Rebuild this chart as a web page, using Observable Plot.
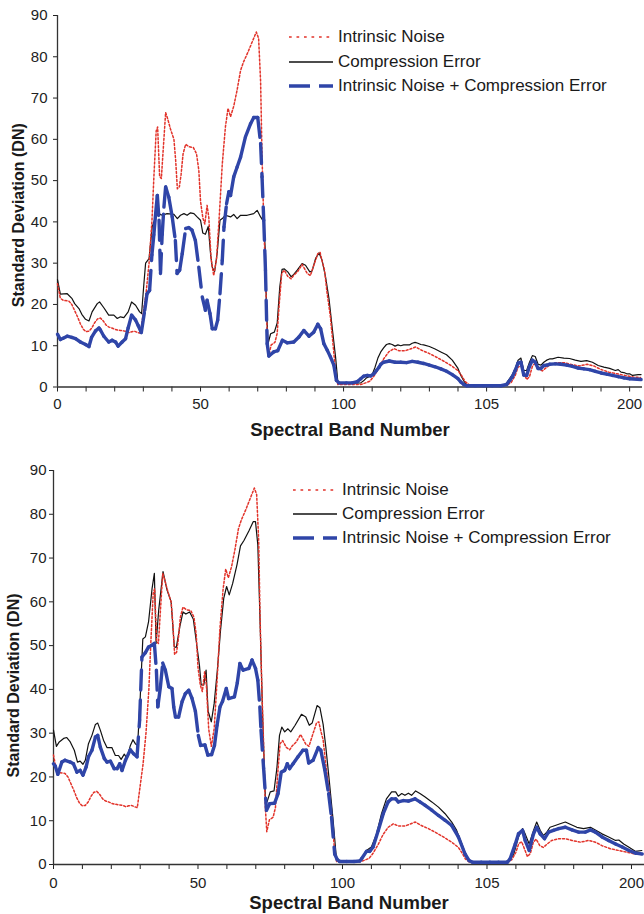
<!DOCTYPE html>
<html>
<head>
<meta charset="utf-8">
<script src="https://cdn.jsdelivr.net/npm/d3@7"></script>
<script src="https://cdn.jsdelivr.net/npm/@observablehq/plot@0.6"></script>
<style>
  body { margin: 0; background: #fff; font-family: "Liberation Sans", Arial, Helvetica, sans-serif; }
  #page { position: relative; width: 644px; height: 914px; overflow: hidden; background: #fff; }
  .panel { position: absolute; left: 0; width: 644px; height: 457px; }
  .panel svg { overflow: visible; }
  .legend-row { position: absolute; height: 20px; display: flex; align-items: center; white-space: nowrap;
                font-size: 17px; color: #1a1a1a; }
  .legend-row svg { flex: none; margin-right: 5px; }
</style>
</head>
<body>
<div id="page"></div>
<script>
// ---- Axis ticks and labels ----
const bandTicks = d3.range(0, 201, 10);
const bandLabelValues = [0, 50, 100, 150, 200];
const bandLabelText = ["0", "50", "100", "105", "200"];
const sdTicks = d3.range(0, 91, 10);
const seriesNames = ["Intrinsic Noise", "Compression Error", "Intrinsic Noise + Compression Error"];

// ---- Intrinsic noise (same in both panels): [band, standard deviation] ----
const intrinsicNoise = [
  [0,25],[1,21.5],[2,21],[4,20.8],[5,20],[6,18.5],[7,17],[8,15.3],[9,14],[10,13.4],[11,13.5],[12,14.3],
  [13,15.6],[14,16.5],[15,16.7],[16,16],[17,15],[18,14.5],[19,14.3],[20,14],[21,13.8],[22,13.7],[24,13.5],
  [25,13.2],[26,13.4],[27,13.5],[28,13.2],[29,13],[30,18],[31,23],[32,30],[33,40],[33.7,51],[34.5,62],
  [35,63],[35.7,51],[36.3,50.5],[37,58],[37.8,66.5],[38.5,65],[39.5,62.5],[40.7,60],[41.3,55],[41.9,48],
  [42.6,48.5],[43.2,51.5],[43.9,56.5],[44.8,58.8],[46,58.2],[47.5,58],[48.6,56.5],[49.4,52.5],[50,45],
  [50.8,41],[51.5,39.5],[52.3,44],[52.9,41],[53.7,31],[54.6,27],[55.6,31],[56.6,42],[57.6,54],[58.7,63],
  [59.6,67.5],[60.5,65.5],[61.6,68],[62.8,72],[64,76.7],[65,78.7],[66.5,81],[68,83.5],[69.5,86],[70.3,84.5],
  [71,74],[71.5,56],[72.1,40],[72.7,27.5],[73.3,13],[73.8,7.5],[74.7,10.2],[76,10.8],[76.8,13],[77.5,20],
  [78.4,27.6],[79.3,28.3],[80.5,26.8],[81.7,26.2],[82.5,27],[84,28],[85.5,29.7],[87.3,27.5],[88.4,27],
  [89.6,29.5],[91,32.3],[91.8,32.6],[92.5,30.5],[93.3,28.5],[94.2,23],[95.4,17],[96.5,9],[97.3,3],[98,0.6],
  [106,0.6],[107.7,1],[109.2,1.4],[110.5,2.5],[112.3,4.5],[114,6.8],[115.8,8.5],[117.6,9.3],[119.3,8.8],
  [121.6,8.8],[123.3,9.2],[125.2,9.7],[127.3,8.9],[129.7,8.2],[132,7.4],[134.9,6.3],[137.8,5.1],[140.1,3.9],
  [141.5,2.5],[142.5,1.3],[143.8,0.6],[145,0.4],[157,0.4],[158.6,1.1],[160,2.8],[161,4.8],[162,5.2],
  [163,3.5],[164,1.8],[165,2.5],[166,5],[167,5.8],[168.3,4.3],[169.5,3.9],[170.7,4.6],[172.4,5.5],
  [174.8,5.9],[177.1,5.9],[179.4,5.5],[182.3,5.1],[185.2,5.5],[187.5,5.1],[189.8,4.3],[192.7,3.6],
  [195.6,3.2],[198.4,2.8],[201.3,2.4],[203.8,2.3]
];

// ---- Upper panel ----
const compressionUpper = [
  [0,26],[1,22.5],[3.4,22.6],[5.1,21.4],[6,20.2],[7.5,19],[8.5,17.6],[9.8,16.4],[11,16],[12.1,18.2],
  [13.9,20.2],[14.7,20.6],[16.2,19.2],[17.9,17.4],[19.7,17.4],[20.9,16.6],[22,17],[23.2,16.8],[24.7,18.2],
  [25.9,20.6],[27.3,19.8],[28.7,18.2],[29.4,17.8],[30.2,25],[30.8,30],[32,31.1],[33.1,38.8],[34.3,41.2],
  [35.4,42],[36.6,41.6],[38.3,42],[40.7,41.8],[41.9,40.8],[43,41.6],[44.2,42],[45.3,41.6],[46.5,42.2],
  [47.7,42],[48.8,41.2],[50,40.4],[50.8,37.3],[51.7,37],[52.7,38.9],[53.5,32.3],[54.1,29],[54.9,27.9],
  [55.8,32.3],[56.8,40.4],[57.6,40.8],[58.7,41.6],[60.5,41.2],[61.6,41.8],[62.8,40.8],[64,41.6],[66.3,41.6],
  [68.6,42],[69.8,42.8],[71,41.2],[72.1,40],[72.7,32.3],[73,20.2],[73.6,10.5],[74.5,12.9],[75.8,13.3],
  [76.8,15.5],[77.7,24.2],[78.5,28.5],[79.3,28.6],[80.5,27.9],[81.7,26.7],[82.6,27.3],[83.8,28.3],
  [85.5,29.9],[86.7,29.5],[88.2,27.9],[89,28.1],[90.2,31.1],[91.4,32.5],[92.5,30.7],[93.7,26.7],
  [94.9,21.4],[96,14.5],[97.2,7.3],[98,1.2],[99,0.8],[106,1],[107,1.5],[108,2.2],[109,2.5],[110,3],
  [111,4.8],[112,7],[113,8.5],[114,9.5],[115,10.3],[116,10.5],[117,10.3],[118,9.9],[119,10.2],[120,10],
  [121,10.2],[123,10.2],[124,10.6],[125,10.8],[126,10.6],[127,10.3],[128,10.2],[130,9.8],[132,9.2],
  [134,8.5],[136,7.8],[138,6.5],[140,4.5],[141,2.8],[142,1.5],[143,0.6],[144,0.3],[156,0.4],[157,1],
  [158,2],[159,3],[160,4.5],[161,6.5],[162,7],[163,4],[164,4],[165,6],[166,7.6],[167,7.4],[168,5.5],
  [169,5.3],[170,6],[171,6.5],[172,6.8],[173,6.8],[175,7.2],[177,7],[179,6.9],[181,6.5],[183,6.2],
  [185,6.4],[187,6],[189,5.2],[191,4.8],[193,4.5],[195,4],[196,4.2],[197,3.6],[198,3.5],[199,3.2],
  [200,3.2],[201,2.8],[203,3],[204,3]
];
const combinedUpper = [
  [0,12.8],[1,11.5],[2,11.8],[3.4,12.3],[5,12],[6.3,11.7],[8,10.9],[9.8,10.3],[11,9.8],[11.9,12],
  [13.3,13.6],[14.5,14.3],[15,13.8],[16.2,12.3],[17.9,10.9],[19.1,11.3],[20.3,10.9],[21.2,9.9],[22.6,10.9],
  [23.8,11.7],[24.7,14.3],[25.9,17.4],[27.3,16.2],[28.2,14.9],[29.3,13.2],[30.5,18.6],[31.3,22.6],
  [32.2,23.4],[33,32],[33.7,37],[34.3,42],[34.9,46.4],[35.5,40.4],[36,27.5],[36.6,37],[37.2,43.6],
  [37.8,48.5],[38.9,46],[40.1,41.2],[41.2,35.5],[41.8,27.5],[42.7,28.3],[43.6,32.3],[44.8,38.4],
  [45.9,38.6],[47,38],[48.2,35.5],[49.4,29],[50.6,21.8],[51.7,18.6],[52.3,21],[53.3,17.8],[54.1,14.1],
  [55.2,14.1],[56,16.2],[56.8,22.6],[57.6,30.7],[58.2,38.8],[59.1,44.4],[59.9,47.3],[60.5,46.4],
  [61.6,50.9],[62.8,53.3],[64,55.7],[65.7,60.6],[67.5,63.8],[68.6,65.3],[70,65.3],[71,59],[71.5,50.9],
  [72.1,40.4],[72.7,28.3],[73.3,10.5],[73.9,7.5],[75.6,8.5],[77,8.8],[78.6,11.3],[80.3,10.7],[82.6,10.9],
  [84.4,12.1],[86.1,13.7],[87.9,12.3],[89.6,13.3],[91,15.2],[92,14.1],[93.1,10.5],[94.3,8.9],[95.4,7.3],
  [96.6,5.3],[97.5,1.6],[98.4,1],[101,1],[103,1],[104.8,1.3],[106,2],[107,2.6],[108.3,2.8],[109.5,2.7],
  [110.6,3.2],[111.5,4],[112.4,4.8],[113,5.5],[114,6],[116,6.3],[118,6],[120,6],[122,5.9],[124,6.2],
  [126,6],[128,5.7],[130,5.3],[132,4.9],[134,4.4],[136,3.8],[138,3],[140,2],[141,1.2],[142,0.6],[143,0.3],
  [146,0.3],[149,0.3],[152,0.3],[155,0.3],[157,0.6],[158,1.5],[159,2.5],[160,4],[161,5.8],[162,6],
  [163,2.9],[164,2.8],[165,5],[166,6.5],[167,6],[168,4.5],[169,4.5],[170,5.2],[171,5.3],[172,5.5],
  [174,5.6],[176,5.5],[178,5.3],[180,5],[182,4.6],[184,4.4],[186,4.2],[188,3.8],[190,3.4],[192,3.1],
  [194,2.8],[196,2.5],[198,2.2],[200,2],[204,1.8]
];

// ---- Lower panel ----
const compressionLower = [
  [0,30.7],[1,27],[2,28],[3.5,28.8],[4.6,29],[5.8,28],[7.2,26.1],[8.3,23.4],[9.2,23.6],[10.2,22.9],
  [11,23.8],[12.1,27.6],[13.3,29.5],[14.5,32],[15.3,32.3],[16.2,30.7],[17.3,28.4],[18.5,26.7],[20.2,26.7],
  [21.4,24.9],[22.5,24.9],[23.4,24],[24.5,25.2],[25.4,24.2],[26.6,27.2],[27.5,28.5],[28.3,27.6],[29.1,27.2],
  [30,38],[30.9,51.5],[31.8,52],[32.9,55.5],[34.1,63],[34.9,66.5],[35.5,50.5],[36.4,58.1],[37.9,66.9],
  [39.3,62.7],[40.7,60],[41.8,49.7],[42.5,49.6],[43.7,54.3],[44.8,57.7],[45.8,57.2],[47.1,57.7],[48.4,56],
  [49.3,51.5],[50.5,45.5],[51.1,41],[52,41],[52.8,44.4],[53.5,35],[54.6,32.6],[55.6,36.8],[56.7,44.4],
  [57.8,53.5],[58.9,60.8],[59.9,63.5],[60.8,61.6],[62,64.2],[63.5,68.5],[64.7,72.8],[65.9,74],[67.6,76.2],
  [69.1,78.3],[69.9,78.3],[70.7,73],[71.5,55],[72.4,33],[73.3,15.5],[73.9,14.3],[75,16.6],[76.3,16.8],
  [77.3,22],[78.2,29.5],[79,31.4],[80,30.3],[81.1,31],[82.1,30.3],[83.6,31.8],[85.8,34.3],[87.3,33.7],
  [88.5,31.8],[89.5,32.3],[91.2,36.3],[92.2,35.8],[93.3,32],[94.2,27],[95.3,20],[96.7,10.5],[97.9,1.3],
  [99,0.8],[106,0.8],[106.8,1.3],[108.3,3.2],[110,4],[111.8,7],[113.5,11.6],[115.2,15],[117,16.6],
  [118.4,16.6],[119.3,15.6],[120.5,16.2],[121.6,15.8],[122.8,16.3],[123.9,15.8],[125.3,16.8],[126.8,16.2],
  [128.6,15.4],[130.9,14.3],[133.2,13.1],[135.5,11.6],[137.8,9.7],[139.5,7.8],[141.3,4.7],[143,1.7],
  [144.2,0.8],[145,0.5],[156,0.5],[157.4,0.9],[159.2,2.2],[160.9,6.3],[162.3,8.2],[163.2,7],[164.6,4.7],
  [166.1,7.8],[167.2,9.7],[168.4,7.8],[169.5,6.6],[170.7,7.4],[171.8,8.5],[173.6,8.9],[175.3,9.3],
  [177.1,9.7],[178.8,9.2],[181.1,8.5],[183.4,8.2],[185.8,8.5],[187.5,7.9],[189.8,7],[192.1,6.3],
  [194.5,5.5],[195.6,5.6],[197.3,4.7],[199,4],[201.3,3],[203.6,3.2]
];
const combinedLower = [
  [0,23],[0.6,22.5],[1.5,20.6],[2.9,23.4],[4,23.8],[5.8,23.4],[6.9,23],[8.1,21.1],[9.2,21.5],[10.2,20.4],
  [11.3,22.3],[12.1,24.6],[13.3,26.1],[14.5,29.1],[15.3,29.5],[16.2,26.8],[17.6,24.2],[18.5,23.4],
  [19.7,23.6],[21,21.9],[22,21.9],[22.9,23],[23.7,21.5],[24.9,23.8],[26.6,26.2],[27.7,25.3],[28.9,24.6],
  [29.8,33],[30.6,47.4],[31.8,48.4],[32.9,49.7],[34.1,50.1],[34.9,50.5],[35.6,44.4],[36.1,36],[37,40.6],
  [37.8,46],[38.7,44.4],[39.9,40.6],[41,40.2],[41.6,36],[42.2,33.7],[43.3,33.7],[44.5,37.2],[45.6,39],
  [46.8,39.8],[47.9,38],[49.1,35],[50.1,29.5],[50.9,27.2],[52.4,27.3],[53.4,25],[54.7,25.1],[55.7,27.2],
  [56.6,31.8],[57.6,36],[58.5,37.3],[59.8,40.2],[60.6,37.9],[62.6,38.3],[63.6,41.5],[64.5,45.9],
  [65.6,44.4],[67.6,44.8],[68.7,46.7],[69.9,44.8],[70.7,42.1],[71.4,36],[71.8,30.7],[72.7,22],[73.7,12.4],
  [74.8,13.9],[76.5,14],[77.7,16.2],[78.8,21.1],[80,21.5],[80.9,23],[81.7,21.9],[82.9,23],[84.6,24.6],
  [86.3,26.1],[87.5,26.1],[88.3,23.2],[89.8,23.8],[91.6,26.7],[92.5,26.1],[93.9,21.5],[95.2,16.2],
  [96.2,10.8],[97.3,2.4],[98.2,1.1],[99,0.7],[101.5,0.7],[104,0.7],[106,0.8],[106.6,1.3],[108.3,3],
  [109.4,3],[110.6,4],[112.4,7.8],[114.1,11.6],[115.8,14.3],[117,15],[118.4,15],[119.3,14.3],[121,14.6],
  [122.8,14.5],[125.1,15],[126.8,14.3],[128.6,13.5],[130.9,12.4],[133.2,11.2],[135.5,10.1],[137.8,8.9],
  [140.1,6.3],[142.4,2.4],[143.8,0.9],[145,0.5],[148,0.5],[151,0.5],[154,0.5],[157,0.5],[158,1.3],
  [159.8,4.7],[160.9,7],[162.3,7.8],[163.2,5.5],[164.6,3.2],[166.1,7],[167.2,8.5],[168.4,7],[169.9,5.9],
  [171.3,7.4],[173,7.8],[174.8,8.2],[177.1,8.5],[179.4,7.9],[181.7,7.4],[184,7.4],[185.8,7.9],[187.5,7.4],
  [189.8,6.3],[192.1,5.5],[194.5,4.7],[196.8,4],[199.1,3.2],[201.4,2.6],[203.7,2.4]
];

// ---- Styling ----
const colors = { noise: "#e2332a", compression: "#111111", combined: "#2f45a8" };
const fontFamily = '"Liberation Sans", Arial, Helvetica, sans-serif';

function panel({compression, combined, margin, xPad, yPad, yTitleShift, xTitleShift}) {
  // The combined series is drawn one segment at a time so the long-dash
  // pattern restarts at every data point (solid on short steps, dashed on long drops).
  const segments = d3.pairs(combined).map(([a, b]) => ({x1: a[0], y1: a[1], x2: b[0], y2: b[1]}));
  return Plot.plot({
    width: 644,
    height: 457,
    marginTop: margin.top,
    marginBottom: margin.bottom,
    marginLeft: margin.left,
    marginRight: margin.right,
    style: {fontFamily, fontSize: "15px", color: "#222", background: "transparent", overflow: "visible"},
    x: {domain: [0, 204.5]},
    y: {domain: [0, 90]},
    marks: [
      Plot.axisY({ticks: sdTicks, tickSize: 4, tickPadding: yPad, label: null, fontSize: 15}),
      Plot.axisX({
        ticks: bandTicks, tickSize: 5, tickPadding: xPad, label: null, fontSize: 15,
        tickFormat: d => { const i = bandLabelValues.indexOf(d); return i < 0 ? "" : bandLabelText[i]; }
      }),
      Plot.ruleX([0], {stroke: "#333", strokeWidth: 1.3}),
      Plot.ruleY([0], {stroke: "#333", strokeWidth: 1.3}),
      Plot.line(compression, {x: d => d[0], y: d => d[1], stroke: colors.compression, strokeWidth: 1.2}),
      Plot.line(intrinsicNoise, {x: d => d[0], y: d => d[1], stroke: colors.noise, strokeWidth: 1.5,
        strokeDasharray: "2,2"}),
      Plot.link(segments, {x1: "x1", y1: "y1", x2: "x2", y2: "y2", stroke: colors.combined,
        strokeWidth: 3.4, strokeDasharray: "20,10", strokeLinecap: "round"}),
      Plot.text(["Standard Deviation (DN)"], {text: d => d, frameAnchor: "left", rotate: -90,
        textAnchor: "middle", lineAnchor: "middle",
        dx: yTitleShift[0], dy: yTitleShift[1], fontWeight: "bold", fontSize: 16, fill: "#1a1a1a"}),
      Plot.text(["Spectral Band Number"], {text: d => d, frameAnchor: "bottom", lineAnchor: "middle",
        dy: xTitleShift, fontWeight: "bold", fontSize: 18.5, fill: "#1a1a1a"})
    ]
  });
}

function legend(container, left, rows) {
  const swatches = [
    {stroke: colors.noise, width: 1.6, dash: "2.7,4.8"},
    {stroke: colors.compression, width: 1.3, dash: null},
    {stroke: colors.combined, width: 3.6, dash: "21,9"}
  ];
  seriesNames.forEach((name, i) => {
    const row = document.createElement("div");
    row.className = "legend-row";
    row.style.left = left + "px";
    row.style.top = (rows[i] - 10) + "px";
    const s = swatches[i];
    row.innerHTML =
      `<svg width="44" height="10"><line x1="0" y1="5" x2="44" y2="5" stroke="${s.stroke}" ` +
      `stroke-width="${s.width}"${s.dash ? ` stroke-dasharray="${s.dash}"` : ""}/></svg><span>${name}</span>`;
    container.appendChild(row);
  });
}

const page = document.getElementById("page");

const upper = document.createElement("div");
upper.className = "panel";
upper.style.top = "0px";
upper.appendChild(panel({
  compression: compressionUpper, combined: combinedUpper,
  margin: {top: 15, bottom: 70.5, left: 57, right: 2},
  xPad: 6.5, yPad: 6, yTitleShift: [-38.5, 14], xTitleShift: 43.5
}));
legend(upper, 289, [37, 62, 86]);
page.appendChild(upper);

const lower = document.createElement("div");
lower.className = "panel";
lower.style.top = "457px";
lower.appendChild(panel({
  compression: compressionLower, combined: combinedLower,
  margin: {top: 13, bottom: 50, left: 53, right: 0},
  xPad: 8, yPad: 3, yTitleShift: [-40, 18], xTitleShift: 39
}));
legend(lower, 293, [33, 57, 81]);
page.appendChild(lower);
</script>
</body>
</html>
